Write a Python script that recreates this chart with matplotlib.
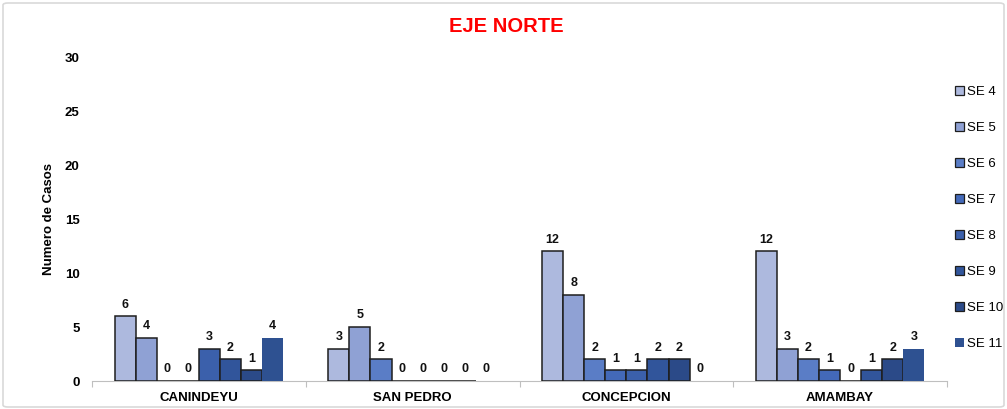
import matplotlib
matplotlib.use("Agg")
import matplotlib.pyplot as plt
from matplotlib.patches import FancyBboxPatch, Patch
import numpy as np

plt.rcParams['font.family'] = ['Liberation Sans', 'DejaVu Sans']

categories = ["CANINDEYU", "SAN PEDRO", "CONCEPCION", "AMAMBAY"]
series_names = ["SE 4", "SE 5", "SE 6", "SE 7", "SE 8", "SE 9", "SE 10", "SE 11"]
se4 = [6, 3, 12, 12]
se5 = [4, 5, 8, 3]
se6 = [0, 2, 2, 2]
se7 = [0, 0, 1, 1]
se8 = [3, 0, 1, 0]
se9 = [2, 0, 2, 1]
se10 = [1, 0, 2, 2]
se11 = [4, 0, 0, 3]
series = [se4, se5, se6, se7, se8, se9, se10, se11]
yticks = [0, 5, 10, 15, 20, 25, 30]

colors = ["#adb9de", "#8fa1d4", "#5a7dc6", "#4369b9", "#3b60ab", "#31559b", "#2b4a88", "#2e5191"]
edges = ["#1e1e1e"] * 7 + ["none"]

W, H = 1007, 409
fig = plt.figure(figsize=(W / 100, H / 100), dpi=100)
ax = fig.add_axes([92 / W, (H - 381) / H, (947 - 92) / W, (381 - 57) / H])

n = len(series)
bw = 21.1 / 214
x = np.arange(len(categories))
for j, (vals, name) in enumerate(zip(series, series_names)):
    pos = x + (j - (n - 1) / 2) * bw
    bars = ax.bar(pos, vals, width=bw, color=colors[j], edgecolor=edges[j],
                  linewidth=1.1, label=name, zorder=3)
    for b, v in zip(bars, vals):
        ax.annotate(str(v), (b.get_x() + b.get_width() / 2, v), xytext=(0, 4),
                    textcoords="offset points", ha="center", va="bottom",
                    fontsize=9, fontweight="bold", color="#111111")

ax.set_xlim(-0.5, len(categories) - 0.5)
ax.set_ylim(0, 30)
ax.set_yticks(yticks)
ax.set_yticklabels([str(t) for t in yticks], fontsize=9.5, fontweight="bold")
ax.tick_params(axis="y", length=0, pad=9)
ax.set_xticks(x)
ax.set_xticklabels(categories, fontsize=9.5, fontweight="bold")
ax.tick_params(axis="x", which="major", length=0, pad=8)
ax.set_xticks(np.arange(-0.5, len(categories)), minor=True)
ax.tick_params(axis="x", which="minor", length=4, color="#bfbfbf", width=0.8)

for s in ["top", "right", "left"]:
    ax.spines[s].set_visible(False)
ax.spines["bottom"].set_color("#bfbfbf")
ax.spines["bottom"].set_linewidth(0.8)

ax.set_ylabel("Numero de Casos", fontsize=9.5, fontweight="bold")
ax.yaxis.set_label_coords((55 - 92) / (947 - 92), 0.5)

fig.text(506 / W, 1 - 27 / H, "EJE NORTE", color="#ff0000", fontsize=14.5,
         fontweight="bold", ha="center", va="center")

handles = [Patch(facecolor=colors[j], edgecolor=edges[j], linewidth=0.9)
           for j in range(n)]
fig.legend(handles, series_names, loc="upper left",
           bbox_to_anchor=(955 / W, 1 - 86 / H), frameon=False, fontsize=9.5,
           handlelength=0.65, handleheight=0.65, handletextpad=0.25,
           labelspacing=1.82, borderpad=0, borderaxespad=0)

border = FancyBboxPatch((3 / W, 2 / H), (1004 - 3) / W, (406 - 2) / H,
                        boxstyle="round,pad=0,rounding_size=0.005",
                        transform=fig.transFigure, facecolor="none",
                        edgecolor="#d9d9d9", linewidth=1.2)
fig.patches.append(border)

fig.savefig("out.png", dpi=100)
